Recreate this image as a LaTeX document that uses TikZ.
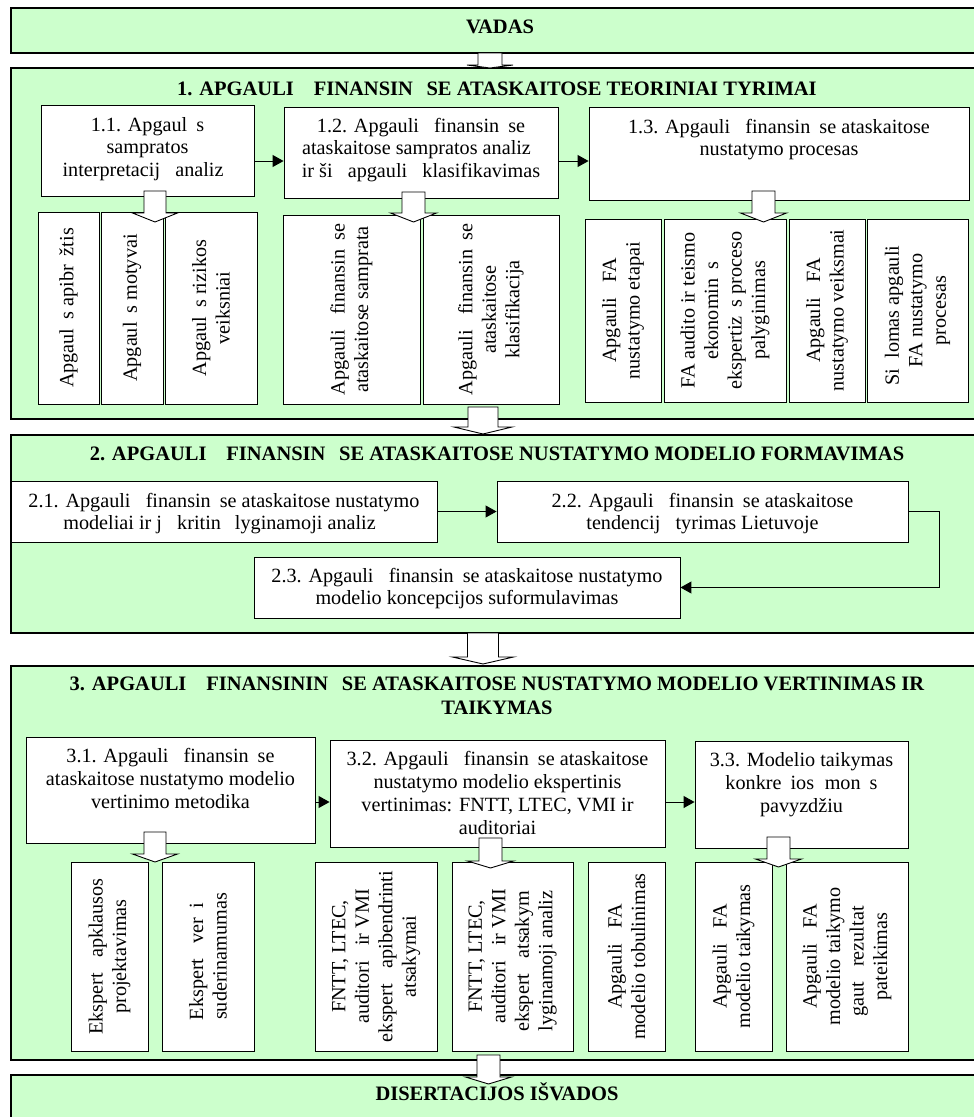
\documentclass[tikz,border=0pt]{standalone}
\usepackage{fontspec}
\setmainfont{Liberation Serif}
\usetikzlibrary{arrows.meta}
\definecolor{secgreen}{HTML}{CCFFCC}
\newcommand\mk[1]{\phantom{#1}}
\newcommand\fs{\fontsize{20.2}{22.5}\selectfont}
\newcommand\fsv{\fontsize{20.2}{23.5}\selectfont}
\newcommand\fsb{\fontsize{20.2}{23.3}\selectfont}
\newcommand\fst{\fontsize{20.5}{24}\selectfont\bfseries}
\tikzset{
 secbox/.style={draw=black, line width=1.1pt, fill=secgreen, inner sep=0pt, rectangle},
 wbox/.style={draw=black, line width=0.9pt, fill=white, inner sep=0pt, rectangle},
 vertbox/.style={wbox, rotate=90, align=center, font=\fsv},
 txt/.style={anchor=base, inner sep=0pt, font=\fs},
 txtb/.style={anchor=base, inner sep=0pt, font=\fsb},
 ttl/.style={anchor=base, inner sep=0pt, font=\fst},
 conn/.style={line width=1pt, -{Triangle[length=11pt,width=12pt]}},
 blockarrow/.style={draw=black, line width=0.9pt, fill=white, line join=miter},
}
% box: [style]{name}{x1}{y1}{x2}{y2}
\newcommand\bx[6][wbox]{\node[#1, minimum width={#5-#3}, minimum height={#6-#4}] (#2) at ({(#3+#5)/2},{(#4+#6)/2}) {};}
% vertical box: {name}{x1}{y1}{x2}{y2}{text}
\newcommand\vbx[6]{\node[vertbox, minimum width={#5-#3}, minimum height={#4-#2}] (#1) at ({(#2+#4)/2},{(#3+#5)/2}) {#6};}
% block arrow: {cx}{shaft half}{head half}{ytop}{ybase}{ytip}
\newcommand\blk[6]{\draw[blockarrow] ({#1-#2},#4) -- ({#1+#2},#4) -- ({#1+#2},#5) -- ({#1+#3},#5) -- (#1,#6) -- ({#1-#3},#5) -- ({#1-#2},#5) -- cycle;}
\begin{document}
\begin{tikzpicture}[x=1pt,y=-1pt]
\useasboundingbox (0,0) rectangle (974,1117);
\clip (0,0) rectangle (974,1117);
\fill[white] (0,0) rectangle (974,1117);

% sections
\bx[secbox]{vadas}{11}{8}{985}{53}
\bx[secbox]{s1}{11}{68}{985}{419}
\bx[secbox]{s2}{11}{435}{985}{633}
\bx[secbox]{s3}{11}{666}{985}{1060}
\bx[secbox]{dis}{11}{1075}{985}{1135}

\node[ttl] (tvadas) at (500,33) {VADAS};
\node[ttl] (ts1) at (497,95) {1. APGAULI\mk{Ų} FINANSIN\mk{Ė}SE ATASKAITOSE TEORINIAI TYRIMAI};
\node[ttl] (ts2) at (497,460) {2. APGAULI\mk{Ų} FINANSIN\mk{Ė}SE ATASKAITOSE NUSTATYMO MODELIO FORMAVIMAS};
\node[ttl] (ts3) at (497,690) {\begin{tabular}[t]{@{}c@{}}3. APGAULI\mk{Ų} FINANSININ\mk{Ė}SE ATASKAITOSE NUSTATYMO MODELIO VERTINIMAS IR\\TAIKYMAS\end{tabular}};
\node[ttl] (tdis) at (497,1100) {DISERTACIJOS IŠVADOS};

% section 1 boxes
\bx{b11}{41}{105}{254}{196}
\bx{b12}{284}{107}{558}{198}
\bx{b13}{589}{107}{969}{200}
\node[txt] (t11) at (147.5,131) {\begin{tabular}[t]{@{}c@{}}1.1. Apgaul\mk{ė}s\\sampratos\\interpretacij\mk{ų} analiz\mk{ė}\end{tabular}};
\node[txt] (t12) at (421,132) {\begin{tabular}[t]{@{}c@{}}1.2. Apgauli\mk{ų} finansin\mk{ė}se\\ataskaitose sampratos analiz\mk{ė}\\ir ši\mk{ų} apgauli\mk{ų} klasifikavimas\end{tabular}};
\node[txt] (t13) at (779,133) {\begin{tabular}[t]{@{}c@{}}1.3. Apgauli\mk{ų} finansin\mk{ė}se ataskaitose\\nustatymo procesas\end{tabular}};

\vbx{v1a}{38}{212}{99}{404}{Apgaul\mk{ė}s apibr\mk{ė}žtis}
\vbx{v1b}{101}{212}{163}{404}{Apgaul\mk{ė}s motyvai}
\vbx{v1c}{165}{212}{257}{404}{Apgaul\mk{ė}s rizikos\\veiksniai}
\vbx{v1d}{283}{215}{420}{404}{Apgauli\mk{ų} finansin\mk{ė}se\\ataskaitose samprata}
\vbx{v1e}{423}{215}{559}{404}{Apgauli\mk{ų} finansin\mk{ė}se\\ataskaitose\\klasifikacija}
\vbx{v1f}{585}{219}{661}{402}{Apgauli\mk{ų} FA\\nustatymo etapai}
\vbx{v1g}{664}{219}{786}{402}{FA audito ir teismo\\ekonomin\mk{ė}s\\ekspertiz\mk{ė}s proceso\\palyginimas}
\vbx{v1h}{789}{219}{865}{402}{Apgauli\mk{ų} FA\\nustatymo veiksmai}
\vbx{v1i}{867}{219}{968}{402}{Si\mk{ū}lomas apgauli\mk{ų}\\FA nustatymo\\procesas}

% section 2 boxes
\bx{b21}{11}{481}{437}{542}
\bx{b22}{497}{481}{908}{542}
\bx{b23}{254}{557}{680}{618}
\node[txt] (t21) at (224,507) {\begin{tabular}[t]{@{}c@{}}2.1. Apgauli\mk{ų} finansin\mk{ė}se ataskaitose nustatymo\\modeliai ir j\mk{ų} kritin\mk{ė} lyginamoji analiz\mk{ė}\end{tabular}};
\node[txt] (t22) at (702.5,507) {\begin{tabular}[t]{@{}c@{}}2.2. Apgauli\mk{ų} finansin\mk{ė}se ataskaitose\\tendencij\mk{ų} tyrimas Lietuvoje\end{tabular}};
\node[txt] (t23) at (467,582) {\begin{tabular}[t]{@{}c@{}}2.3. Apgauli\mk{ų} finansin\mk{ė}se ataskaitose nustatymo\\modelio koncepcijos suformulavimas\end{tabular}};

% section 3 boxes
\bx{b31}{26}{737}{315}{843}
\bx{b32}{330}{740}{665}{847}
\bx{b33}{695}{741}{908}{848}
\node[txtb] (t31) at (170.5,762) {\begin{tabular}[t]{@{}c@{}}3.1. Apgauli\mk{ų} finansin\mk{ė}se\\ataskaitose nustatymo modelio\\vertinimo metodika\end{tabular}};
\node[txtb] (t32) at (497.5,765) {\begin{tabular}[t]{@{}c@{}}3.2. Apgauli\mk{ų} finansin\mk{ė}se ataskaitose\\nustatymo modelio ekspertinis\\vertinimas: FNTT, LTEC, VMI ir\\auditoriai\end{tabular}};
\node[txtb] (t33) at (801.5,766) {\begin{tabular}[t]{@{}c@{}}3.3. Modelio taikymas\\konkre\mk{č}ios \mk{į}mon\mk{ė}s\\pavyzdžiu\end{tabular}};

\vbx{v3a}{71}{862}{148}{1051}{Ekspert\mk{ų} apklausos\\projektavimas}
\vbx{v3b}{162}{862}{254}{1051}{Ekspert\mk{ų} ver\mk{č}i\mk{ų}\\suderinamumas}
\vbx{v3c}{315}{862}{437}{1051}{FNTT, LTEC,\\auditori\mk{ų} ir VMI\\ekspert\mk{ų} apibendrinti\\atsakymai}
\vbx{v3d}{452}{862}{573}{1051}{FNTT, LTEC,\\auditori\mk{ų} ir VMI\\ekspert\mk{ų} atsakym\mk{ų}\\lyginamoji analiz\mk{ė}}
\vbx{v3e}{588}{862}{665}{1051}{Apgauli\mk{ų} FA\\modelio tobulinimas}
\vbx{v3f}{695}{862}{772}{1051}{Apgauli\mk{ų} FA\\modelio taikymas}
\vbx{v3g}{786}{862}{908}{1051}{Apgauli\mk{ų} FA\\modelio taikymo\\gaut\mk{ų} rezultat\mk{ų}\\pateikimas}

% connectors
\draw[conn] (b11.east |- 0,161) -- (b12.west |- 0,161);
\draw[conn] (b12.east |- 0,161) -- (b13.west |- 0,161);
\draw[conn] (b21) -- (b22);
\draw[conn] (b22.east) -- ++(31,0) |- (b23.east);
\draw[conn] (b31.east |- 0,802) -- (b32.west |- 0,802);
\draw[conn] (b32.east |- 0,802) -- (b33.west |- 0,802);

% block arrows
\blk{490}{12}{23}{53}{65}{68}
\blk{155}{11}{22.5}{191}{213}{222}
\blk{413.5}{11.5}{23}{192}{213}{222}
\blk{763.5}{11.5}{23}{191}{213}{222}
\blk{483}{15}{29}{407}{427}{434}
\blk{483}{15.5}{30.5}{633}{657}{664}
\blk{155}{11}{22.5}{832}{854}{862}
\blk{490.5}{11.5}{23}{838}{861}{868}
\blk{778.5}{11.5}{23}{837}{859}{867}
\blk{488.5}{11.5}{23}{1055}{1077}{1084}
\end{tikzpicture}
\end{document}
